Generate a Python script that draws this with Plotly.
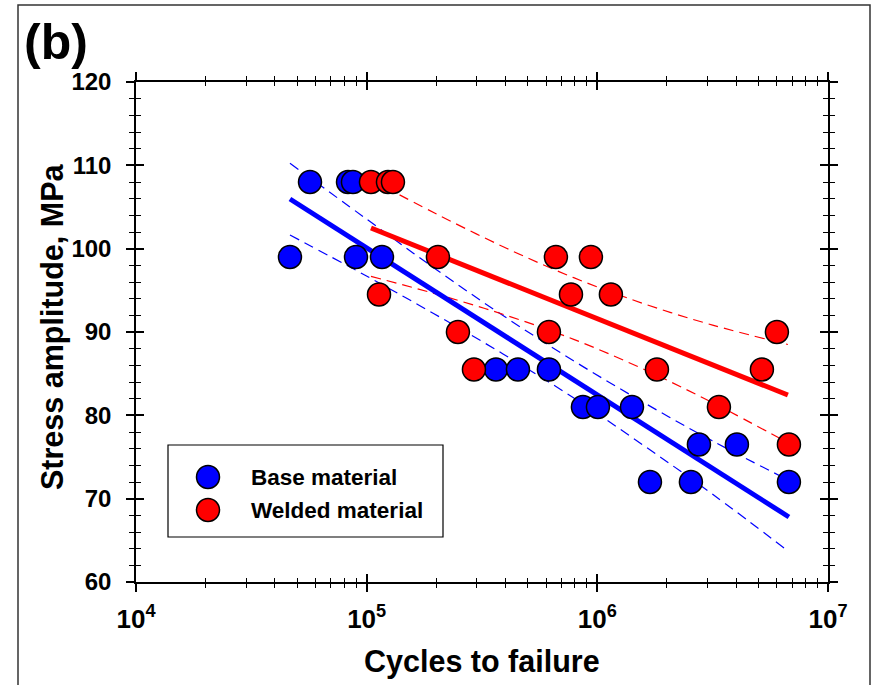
import plotly.graph_objects as go

# ---------------- data ----------------
base_cycles = [46500, 56800, 83000, 87200, 89900, 116500, 363500, 452700, 616900,
               866000, 1006000, 1413000, 1691000, 2545000, 2757000, 4028000, 6770000]
base_stress = [99, 108, 108, 108, 99, 99, 85.5, 85.5, 85.5,
               81, 81, 81, 72, 72, 76.5, 76.5, 72]

weld_cycles = [104400, 123700, 130000, 113100, 203700, 248700, 291800, 616900, 661400,
               768600, 938000, 1145000, 1813000, 3366000, 5170000, 6005000, 6770000]
weld_stress = [108, 108, 108, 94.5, 99, 90, 85.5, 90, 99,
               94.5, 99, 94.5, 85.5, 81, 85.5, 90, 76.5]

base_fit_cycles = [46500, 6770000]
base_fit_stress = [105.96, 67.8]
base_band_cycles = [46500, 98000, 195000, 390000, 785000, 1570000, 3150000, 6770000]
base_band_upper = [110.24, 103.72, 97.72, 91.97, 86.58, 81.62, 76.94, 72.2]
base_band_lower = [101.64, 96.84, 92.22, 87.37, 82.14, 76.48, 70.56, 63.64]

weld_fit_cycles = [104400, 6700000]
weld_fit_stress = [102.48, 82.44]
weld_band_cycles = [104400, 196000, 393000, 790000, 1580000, 3160000, 6700000]
weld_band_upper = [108.27, 104.31, 100.20, 96.52, 93.42, 90.83, 88.5]
weld_band_lower = [96.67, 94.63, 92.10, 89.12, 85.56, 81.51, 76.71]

x_tick_vals = [1e4, 1e5, 1e6, 1e7]
x_tick_text = ["<b>10<sup>4</sup></b>", "<b>10<sup>5</sup></b>",
               "<b>10<sup>6</sup></b>", "<b>10<sup>7</sup></b>"]
x_minor_vals = [m * 10 ** e for e in (4, 5, 6) for m in range(2, 10)]
y_tick_vals = [60, 70, 80, 90, 100, 110, 120]
y_tick_text = ["<b>60</b>", "<b>70</b>", "<b>80</b>", "<b>90</b>",
               "<b>100</b>", "<b>110</b>", "<b>120</b>"]

BLUE = "#0000FF"
RED = "#FF0000"
FONT = "Liberation Sans, Arial, sans-serif"

# ---------------- layout geometry ----------------
W, H = 875, 685
L, R, T, B = 136, 47, 82, 103
PW, PH = W - L - R, H - T - B


def px(xp):
    return (xp - L) / PW


def py(yp):
    return (H - B - yp) / PH


fig = go.Figure()

dash = "10px,6px"
for xs, ys, c in [(base_band_cycles, base_band_upper, BLUE),
                  (base_band_cycles, base_band_lower, BLUE),
                  (weld_band_cycles, weld_band_upper, RED),
                  (weld_band_cycles, weld_band_lower, RED)]:
    fig.add_trace(go.Scatter(x=xs, y=ys, mode="lines", showlegend=False, hoverinfo="skip",
                             line=dict(color=c, width=1.2, dash=dash, shape="spline")))

fig.add_trace(go.Scatter(x=base_fit_cycles, y=base_fit_stress, mode="lines", showlegend=False,
                         line=dict(color=BLUE, width=5)))
fig.add_trace(go.Scatter(x=weld_fit_cycles, y=weld_fit_stress, mode="lines", showlegend=False,
                         line=dict(color=RED, width=5)))

fig.add_trace(go.Scatter(x=base_cycles, y=base_stress, mode="markers", name="Base material",
                         showlegend=False,
                         marker=dict(size=23, color=BLUE, line=dict(color="black", width=1.5))))
fig.add_trace(go.Scatter(x=weld_cycles, y=weld_stress, mode="markers", name="Welded material",
                         showlegend=False,
                         marker=dict(size=23, color=RED, line=dict(color="black", width=1.5))))

# dummy trace to activate the overlay axes that carry the inward ticks
fig.add_trace(go.Scatter(x=[None], y=[None], xaxis="x2", yaxis="y2", showlegend=False,
                         hoverinfo="skip"))

xtickfont = dict(family=FONT, size=26, color="black")
ytickfont = dict(family=FONT, size=24, color="black")

fig.update_layout(
    width=W, height=H,
    margin=dict(l=L, r=R, t=T, b=B, pad=0),
    paper_bgcolor="white", plot_bgcolor="white",
    showlegend=False,
    xaxis=dict(type="log", range=[4, 7], tickmode="array", tickvals=x_tick_vals,
               ticktext=x_tick_text, ticks="outside", ticklen=8, tickwidth=1.5,
               tickcolor="black", showline=True, linecolor="black", linewidth=1.5,
               mirror="allticks", showgrid=False, zeroline=False, tickfont=xtickfont,
               ticklabelstandoff=5,
               minor=dict(tickmode="array", tickvals=x_minor_vals, ticks="outside",
                          ticklen=4, tickwidth=1.2, tickcolor="black", showgrid=False)),
    yaxis=dict(range=[60, 120], tickmode="array", tickvals=y_tick_vals, ticktext=y_tick_text,
               ticks="outside", ticklen=8, tickwidth=1.5, tickcolor="black",
               showline=True, linecolor="black", linewidth=1.5, mirror="allticks",
               showgrid=False, zeroline=False, tickfont=ytickfont, ticklabelstandoff=10,
               minor=dict(dtick=2, tick0=60, ticks="outside", ticklen=5, tickwidth=1.2,
                          tickcolor="black", showgrid=False)),
    xaxis2=dict(type="log", range=[4, 7], overlaying="x", anchor="y2", tickmode="array",
                tickvals=x_tick_vals, ticks="inside", ticklen=8, tickwidth=1.5,
                tickcolor="black", mirror="allticks", showline=False, showgrid=False,
                zeroline=False, showticklabels=False,
                minor=dict(tickmode="array", tickvals=x_minor_vals, ticks="inside",
                           ticklen=4, tickwidth=1.2, tickcolor="black", showgrid=False)),
    yaxis2=dict(range=[60, 120], overlaying="y", anchor="x2", tickmode="linear", tick0=60,
                dtick=10, ticks="inside", ticklen=8, tickwidth=1.5, tickcolor="black",
                mirror="allticks", showline=False, showgrid=False, zeroline=False,
                showticklabels=False,
                minor=dict(dtick=2, tick0=60, ticks="inside", ticklen=5, tickwidth=1.2,
                           tickcolor="black", showgrid=False)),
)

shapes = []
# outer figure frame
shapes.append(dict(type="rect", xref="paper", yref="paper",
                   x0=px(18), x1=px(870), y0=py(700), y1=py(5),
                   line=dict(color="#333333", width=1.5), fillcolor="rgba(0,0,0,0)",
                   layer="below"))
# custom legend box
shapes.append(dict(type="rect", xref="paper", yref="paper",
                   x0=px(168), x1=px(443), y0=py(537), y1=py(445),
                   line=dict(color="black", width=1.2), fillcolor="white"))
for cy, col in [(477, BLUE), (510, RED)]:
    shapes.append(dict(type="circle", xref="paper", yref="paper",
                       x0=px(208 - 11.5), x1=px(208 + 11.5), y0=py(cy + 11.5), y1=py(cy - 11.5),
                       line=dict(color="black", width=1.5), fillcolor=col))
fig.update_layout(shapes=shapes)

ann = []
ann.append(dict(text="<b>Base material</b>", xref="paper", yref="paper", x=px(249), y=py(477),
                xanchor="left", yanchor="middle", showarrow=False,
                font=dict(family=FONT, size=22.5, color="black")))
ann.append(dict(text="<b>Welded material</b>", xref="paper", yref="paper", x=px(249), y=py(510),
                xanchor="left", yanchor="middle", showarrow=False,
                font=dict(family=FONT, size=22.5, color="black")))
ann.append(dict(text="<b>Cycles to failure</b>", xref="paper", yref="paper", x=px(482), y=py(661),
                xanchor="center", yanchor="middle", showarrow=False,
                font=dict(family=FONT, size=30.5, color="black")))
ann.append(dict(text="<b>Stress amplitude, MPa</b>", xref="paper", yref="paper", x=px(52),
                y=py(327), xanchor="center", yanchor="middle", textangle=-90, showarrow=False,
                font=dict(family=FONT, size=30.5, color="black")))
ann.append(dict(text="<b>(b)</b>", xref="paper", yref="paper", x=px(56), y=py(42),
                xanchor="center", yanchor="middle", showarrow=False,
                font=dict(family=FONT, size=50, color="black")))
fig.update_layout(annotations=ann)

fig.write_html("out.html")
